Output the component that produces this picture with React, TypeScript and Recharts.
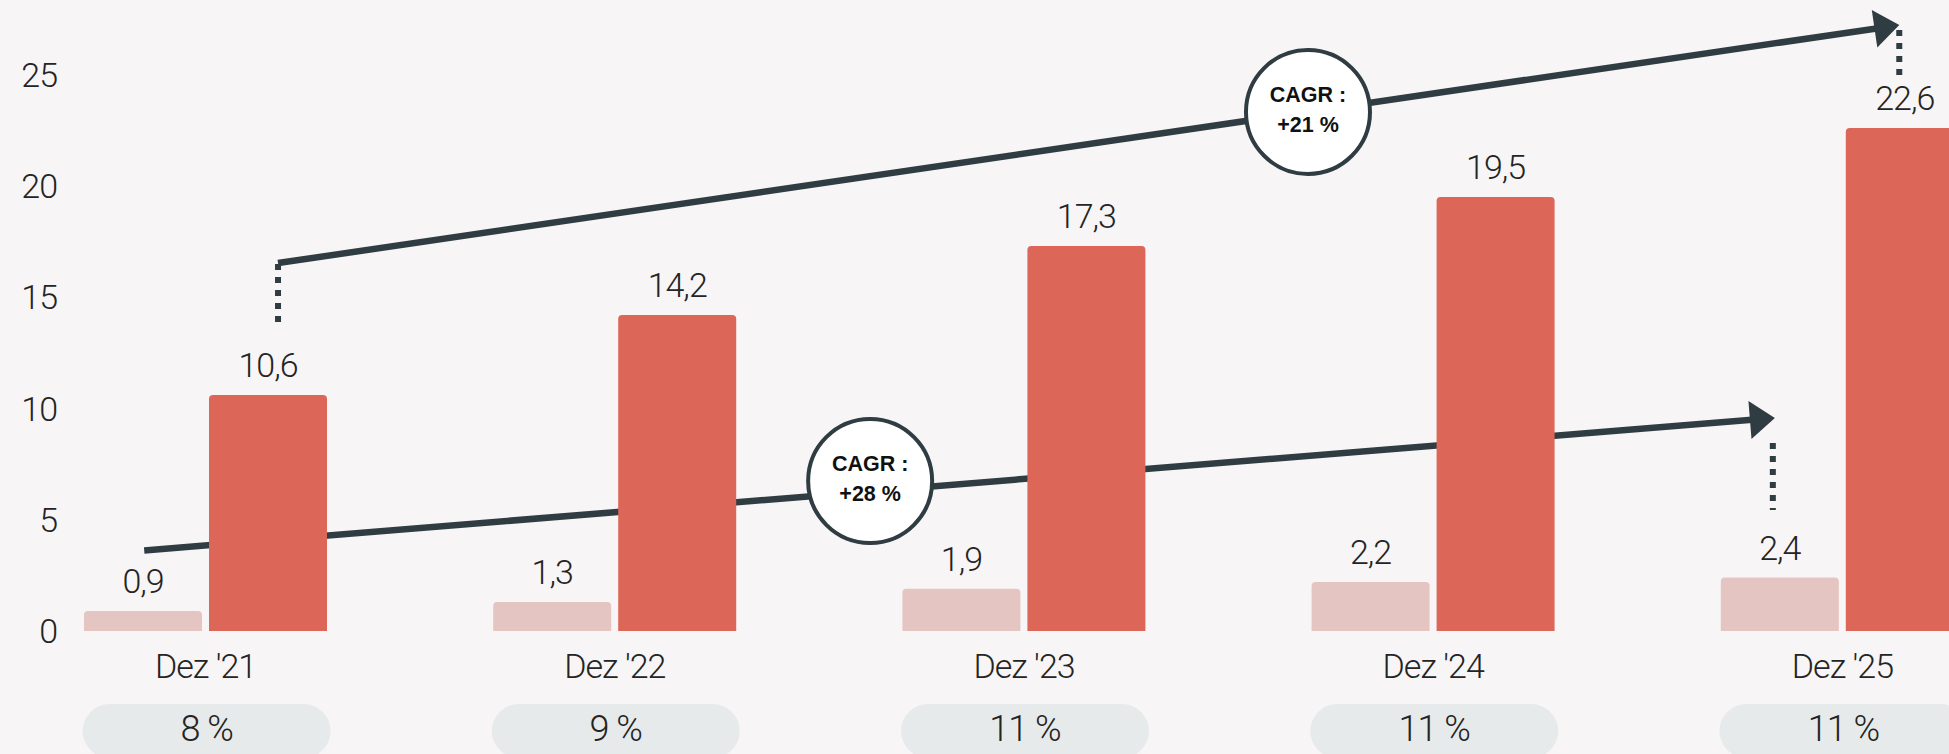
import { BarChart, Bar, XAxis, YAxis, LabelList, ReferenceLine, ReferenceDot, ScatterChart } from "recharts";

const categories = ["Dez '21", "Dez '22", "Dez '23", "Dez '24", "Dez '25"];
const lightValues = [0.9, 1.3, 1.9, 2.2, 2.4];
const redValues = [10.6, 14.2, 17.3, 19.5, 22.6];
const shares = ["8 %", "9 %", "11 %", "11 %", "11 %"];
const yTicks = [0, 5, 10, 15, 20, 25];

// annotations: x on the category index scale (0 = first group centre), y in chart units
const upperArrow = [{ x: 0.177, y: 16.53 }, { x: 4.139, y: 27.22 }];
const lowerArrow = [{ x: -0.15, y: 3.62 }, { x: 3.835, y: 9.57 }];
const dottedGuides = [
  [{ x: 0.177, y: 16.49 }, { x: 0.177, y: 13.57 }],
  [{ x: 4.139, y: 27.0 }, { x: 4.139, y: 24.98 }],
  [{ x: 3.83, y: 8.45 }, { x: 3.83, y: 5.44 }],
];
const cagrBadges = [
  { x: 2.694, y: 23.32, label: "+21 %" },
  { x: 1.624, y: 6.74, label: "+28 %" },
];

const data = categories.map((name, i) => ({ name, light: lightValues[i], red: redValues[i] }));

const W = 2047;
const H = 754;
const MARGIN = { top: 74.5, right: 0, bottom: 0, left: 0 };
const INK = "#2f3c42";
const TEXT = "#242424";
const FONT = "Roboto, 'Liberation Sans', sans-serif";
const BADGE_FONT = "'Liberation Sans', Arial, sans-serif";
const comma = (v: any) => String(v).replace(".", ",");

function Arrow(p: any) {
  const { x1, y1, x2, y2 } = p;
  const dx = x2 - x1;
  const dy = y2 - y1;
  const len = Math.hypot(dx, dy);
  const ux = dx / len;
  const uy = dy / len;
  const head = 25;
  const half = 19;
  const bx = x2 - ux * head;
  const by = y2 - uy * head;
  return (
    <g>
      <line x1={x1} y1={y1} x2={bx + ux * 2} y2={by + uy * 2} stroke={INK} strokeWidth={6.5} />
      <polygon
        points={`${x2},${y2} ${bx - uy * half},${by + ux * half} ${bx + uy * half},${by - ux * half}`}
        fill={INK}
      />
    </g>
  );
}

function Dotted(p: any) {
  const { x1, y1, x2, y2 } = p;
  return <line x1={x1} y1={y1} x2={x2} y2={y2} stroke={INK} strokeWidth={6} strokeDasharray="6 7" />;
}

function badge(label: string) {
  return (p: any) => (
    <g>
      <circle cx={p.cx} cy={p.cy} r={62} fill="#ffffff" stroke={INK} strokeWidth={4} />
      <text x={p.cx} y={p.cy - 10} textAnchor="middle" fontFamily={BADGE_FONT} fontWeight={700} fontSize={21.5} fill="#111">
        CAGR :
      </text>
      <text x={p.cx} y={p.cy + 20} textAnchor="middle" fontFamily={BADGE_FONT} fontWeight={700} fontSize={21.5} fill="#111">
        {label}
      </text>
    </g>
  );
}

function CategoryTick(p: any) {
  const { x, y, payload, index } = p;
  return (
    <g>
      <text x={x} y={y + 47} textAnchor="middle" fontFamily={FONT} fontWeight={300} fontSize={34} letterSpacing={-1} fill={TEXT}>
        {payload.value}
      </text>
      <rect x={x - 123} y={y + 73} width={248} height={54} rx={27} fill="#e6eaea" />
      <text x={x + 1} y={y + 110} textAnchor="middle" fontFamily={FONT} fontWeight={300} fontSize={36} letterSpacing={-1} fill={TEXT}>
        {shares[index]}
      </text>
    </g>
  );
}

function ValueTick(p: any) {
  const { x, y, payload } = p;
  return (
    <text x={x + 56} y={y} dy="0.36em" textAnchor="end" fontFamily={FONT} fontWeight={300} fontSize={34} letterSpacing={-1} fill={TEXT}>
      {payload.value}
    </text>
  );
}

export default function App() {
  return (
    <div
      style={{
        position: "fixed",
        left: 0,
        top: 0,
        width: 1949,
        height: 754,
        overflow: "hidden",
        background: "#f7f5f6",
      }}
    >
      {/* arrows and badges, drawn underneath the bars */}
      <div style={{ position: "absolute", left: 0, top: 0 }}>
        <ScatterChart width={W} height={H} margin={{ ...MARGIN, left: 1, bottom: 123 }}>
          <XAxis type="number" dataKey="x" domain={[-0.5, 4.5]} allowDataOverflow hide />
          <YAxis type="number" dataKey="y" domain={[0, 25]} allowDataOverflow hide />
          <ReferenceLine segment={lowerArrow} ifOverflow="visible" shape={Arrow} />
          <ReferenceLine segment={upperArrow} ifOverflow="visible" shape={Arrow} />
          {dottedGuides.map((seg, i) => (
            <ReferenceLine key={`g${i}`} segment={seg} ifOverflow="visible" shape={Dotted} />
          ))}
          {cagrBadges.map((b) => (
            <ReferenceDot key={b.label} x={b.x} y={b.y} ifOverflow="visible" shape={badge(b.label)} />
          ))}
        </ScatterChart>
      </div>
      <div style={{ position: "absolute", left: 0, top: 0 }}>
        <BarChart width={W} height={H} data={data} margin={MARGIN} barSize={118} barGap={7}>
          <XAxis
            dataKey="name"
            height={123}
            axisLine={false}
            tickLine={false}
            tickSize={0}
            tickMargin={0}
            interval={0}
            tick={<CategoryTick />}
          />
          <YAxis
            width={1}
            domain={[0, 25]}
            ticks={yTicks}
            axisLine={false}
            tickLine={false}
            tickSize={0}
            tickMargin={0}
            tick={<ValueTick />}
          />
          <Bar dataKey="light" fill="#e5c5c1" radius={[4, 4, 0, 0]} isAnimationActive={false}>
            <LabelList dataKey="light" position="top" offset={18} formatter={comma} fontFamily={FONT} fontWeight={300} fontSize={34} letterSpacing={-1} fill={TEXT} />
          </Bar>
          <Bar dataKey="red" fill="#dc6759" radius={[4, 4, 0, 0]} isAnimationActive={false}>
            <LabelList dataKey="red" position="top" offset={18} formatter={comma} fontFamily={FONT} fontWeight={300} fontSize={34} letterSpacing={-1} fill={TEXT} />
          </Bar>
        </BarChart>
      </div>
    </div>
  );
}
